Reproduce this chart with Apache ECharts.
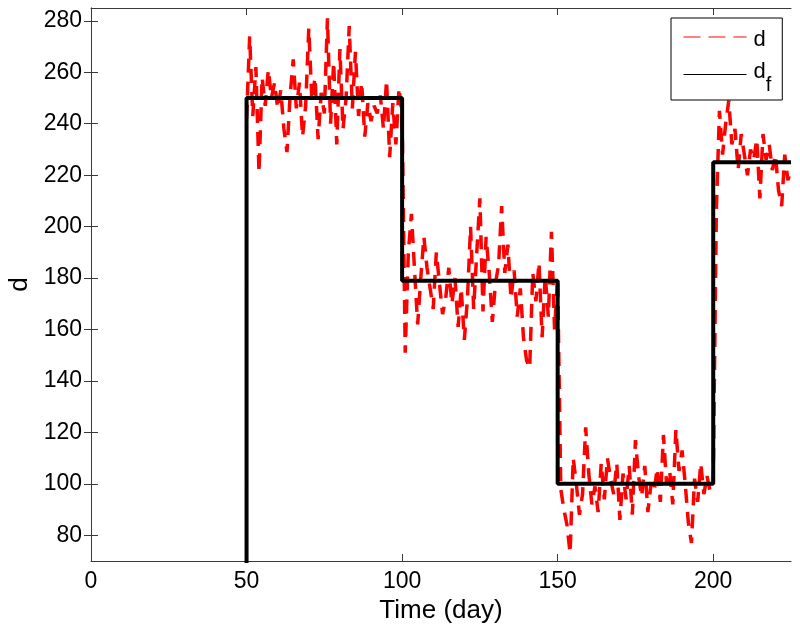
<!DOCTYPE html>
<html><head><meta charset="utf-8">
<script src="https://cdn.jsdelivr.net/npm/echarts@6/dist/echarts.min.js"></script>
<style>html,body{margin:0;padding:0;background:#fff}#c{width:800px;height:633px}</style>
</head><body><div id="c"></div>
<script>
const dStartDay = 50;
const dValues = [
  242,274,243,262,221,258,247,261,250,256,246,253,238,229,251,265,246,256,235,247,
  277,249,258,234,252,244,281,240,264,232,269,238,250,278,246,268,243,256,235,248,
  241,247,244,251,238,257,227,248,232,254,243,
  151,190,205,183,162,180,196,184,176,168,190,178,166,172,184,170,180,161,176,156,
  172,200,168,190,211,167,196,182,163,178,185,208,182,193,172,183,165,176,157,148,
  145,182,171,186,157,181,165,198,160,180,
  98,90,84,73,110,100,88,96,122,104,92,99,89,108,94,110,102,96,108,86,
  104,94,107,88,117,103,95,107,89,100,97,106,93,119,100,105,92,121,105,113,
  100,85,77,102,93,108,96,103,97,101,
  206,245,228,240,249,232,238,222,236,228,220,230,226,234,211,236,226,232,222,228,
  214,208,228,218,222
];
const stepTimes = [0, 50, 100, 150, 200, 225];
const stepLevels = [0, 250, 179, 100, 225, 225];
const xTickValues = [0, 50, 100, 150, 200];
const yTickValues = [80, 100, 120, 140, 160, 180, 200, 220, 240, 260, 280];

const FONT = 'Liberation Sans, Arial, Helvetica, sans-serif';
const AX = '#3a3a3a';
const dData = dValues.map((v, i) => [dStartDay + i, v]);
const dfData = stepTimes.map((t, i) => [t, stepLevels[i]]);

const baseX = {
  type: 'value', min: 0, max: 225,
  splitLine: { show: false },
  axisLine: { show: true, lineStyle: { color: AX, width: 1 } },
  axisTick: { show: true, inside: true, length: 7, lineStyle: { color: AX }, customValues: xTickValues },
};
const baseY = {
  type: 'value', min: 70, max: 285,
  splitLine: { show: false },
  axisLine: { show: true, lineStyle: { color: AX, width: 1 } },
  axisTick: { show: true, inside: true, length: 7, lineStyle: { color: AX }, customValues: yTickValues },
};

const chart = echarts.init(document.getElementById('c'), null, { renderer: 'canvas' });
chart.setOption({
  animation: false,
  backgroundColor: '#fff',
  grid: { left: 91, right: 9, top: 8, bottom: 72, outerBoundsMode: 'none' },
  xAxis: [
    Object.assign({}, baseX, {
      position: 'bottom',
      name: 'Time (day)', nameLocation: 'middle', nameGap: 34,
      nameTextStyle: { fontFamily: FONT, fontSize: 26, color: '#000' },
      axisLabel: { show: true, customValues: xTickValues, margin: 9, fontFamily: FONT, fontSize: 23, color: '#000' }
    }),
    Object.assign({}, baseX, { position: 'top', axisLabel: { show: false } })
  ],
  yAxis: [
    Object.assign({}, baseY, {
      position: 'left',
      name: 'd', nameLocation: 'middle', nameGap: 58, nameRotate: 90,
      nameTextStyle: { fontFamily: FONT, fontSize: 26, color: '#000' },
      axisLabel: { show: true, customValues: yTickValues, margin: 9, fontFamily: FONT, fontSize: 23, color: '#000' }
    }),
    Object.assign({}, baseY, { position: 'right', axisLabel: { show: false } })
  ],
  legend: {
    orient: 'vertical', left: 671, top: 18,
    padding: [5, 11, 5, 12], itemGap: 3, itemWidth: 63, itemHeight: 10,
    backgroundColor: '#fff', borderColor: '#000', borderWidth: 1, borderRadius: 0,
    itemStyle: { opacity: 0 },
    textStyle: {
      fontFamily: FONT, fontSize: 22, color: '#000',
      rich: {
        m1: { fontFamily: FONT, fontSize: 22, lineHeight: 21, color: '#000', padding: [6, 0, 0, 2] },
        m2: { fontFamily: FONT, fontSize: 22, lineHeight: 21, color: '#000', padding: [0, 0, 6, 2] },
        s: { fontFamily: FONT, fontSize: 20, lineHeight: 20, color: '#000', padding: [21, 0, 0, 0] }
      }
    },
    formatter: n => (n === 'd_f' ? '{m2|d}{s|f}' : '{m1|d}'),
    data: [
      { name: 'd', lineStyle: { width: 1, type: [17, 8], color: '#ff0000' } },
      { name: 'd_f', lineStyle: { width: 1, color: '#000' } }
    ]
  },
  series: [
    {
      name: 'd', type: 'line', xAxisIndex: 0, yAxisIndex: 0,
      data: dData, symbol: 'none', showSymbol: false,
      lineStyle: { color: '#ff0000', width: 3.5, type: [14, 9] },
      itemStyle: { color: '#ff0000' }, z: 2
    },
    {
      name: 'd_f', type: 'line', xAxisIndex: 0, yAxisIndex: 0,
      data: dfData, step: 'end', symbol: 'none', showSymbol: false,
      lineStyle: { color: '#000', width: 4 },
      itemStyle: { color: '#000' }, z: 3
    }
  ]
});
</script>
</body></html>
